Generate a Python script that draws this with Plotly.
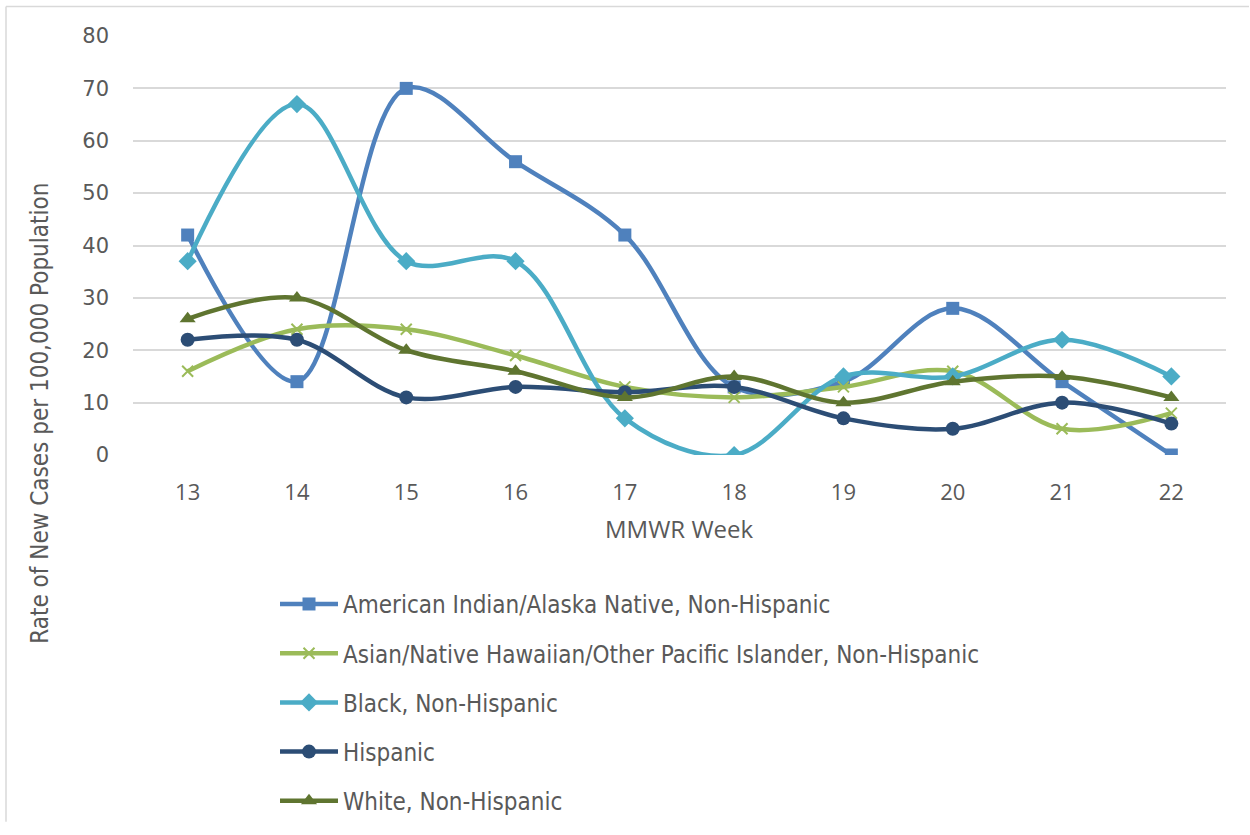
import plotly.graph_objects as go

weeks = [13, 14, 15, 16, 17, 18, 19, 20, 21, 22]
aian = [42, 14, 70, 56, 42, 13, 14, 28, 14, 0]
asian = [16, 24, 24, 19, 13, 11, 13, 16, 5, 8]
black = [37, 67, 37, 37, 7, 0, 15, 15, 22, 15]
hispanic = [22, 22, 11, 13, 12, 13, 7, 5, 10, 6]
white = [26, 30, 20, 16, 11, 15, 10, 14, 15, 11]

series = [
    ("American Indian/Alaska Native, Non-Hispanic", aian, "#4f81bd", "square", 13),
    ("Asian/Native Hawaiian/Other Pacific Islander, Non-Hispanic", asian, "#9bbb59", "x-thin", 11),
    ("Black, Non-Hispanic", black, "#4bacc6", "diamond", 14),
    ("Hispanic", hispanic, "#2c4d75", "circle", 14),
    ("White, Non-Hispanic", white, "#5f7530", "triangle-up", 14),
]

NARROW = "DejaVu Sans Condensed, Roboto Condensed, Liberation Sans Narrow, Roboto"

fig = go.Figure()
for i, (name, vals, color, sym, size) in enumerate(series):
    mk = dict(symbol=sym, size=size, color=color)
    if sym == "x-thin":
        mk["line"] = dict(color=color, width=2)
    fig.add_trace(go.Scatter(
        x=weeks, y=vals, name=name, mode="lines+markers",
        line=dict(color=color, width=4.5, shape="spline", smoothing=1.0),
        marker=mk, legendgroup=f"g{i}",
    ))

W, H = 1250, 835
L, R, T = 133, 24, 36
BOTTOM = 462
B = H - BOTTOM
pw = W - L - R
ph = H - T - B

def px2x(p):
    return (p - L) / pw

def py2y(p):
    return (BOTTOM - p) / ph

fig.update_layout(
    width=W, height=H,
    margin=dict(l=L, r=R, t=T, b=B),
    paper_bgcolor="white", plot_bgcolor="white",
    font=dict(family="Open Sans", color="#595959", size=19),
    xaxis=dict(
        range=[12.5, 22.5], tickmode="array", tickvals=weeks,
        ticktext=[str(w) for w in weeks], showgrid=False, zeroline=False,
        showline=False, ticks="", ticklabelstandoff=22,
        tickfont=dict(family="Open Sans", size=22, color="#595959"),
    ),
    yaxis=dict(
        range=[0, 80], dtick=10, showgrid=True, gridcolor="#d9d9d9", gridwidth=1.5,
        zeroline=False, showline=False, ticks="", ticklabelstandoff=23,
        tickfont=dict(family="DejaVu Sans", size=21, color="#595959"),
    ),
    showlegend=True,
    legend=dict(
        x=px2x(275), y=py2y(591), xanchor="left", yanchor="top",
        orientation="v", tracegroupgap=15, itemwidth=58,
        font=dict(family=NARROW, size=24, color="#595959"),
        bgcolor="rgba(0,0,0,0)",
    ),
    annotations=[
        dict(text="MMWR Week", xref="paper", yref="paper", x=px2x(679), y=py2y(537),
             xanchor="center", yanchor="middle", showarrow=False,
             font=dict(family="Open Sans", size=24, color="#595959")),
        dict(text="Rate of New Cases per 100,000 Population", xref="paper", yref="paper",
             x=px2x(40), y=py2y(420), xanchor="center", yanchor="middle", textangle=-90,
             showarrow=False,
             font=dict(family=NARROW, size=24, color="#595959")),
    ],
    shapes=[
        dict(type="line", xref="paper", yref="paper", x0=px2x(6), x1=px2x(1249),
             y0=py2y(6), y1=py2y(6), line=dict(color="#d9d9d9", width=1.5)),
        dict(type="line", xref="paper", yref="paper", x0=px2x(6), x1=px2x(6),
             y0=py2y(6), y1=py2y(H), line=dict(color="#d9d9d9", width=1.5)),
    ],
)

fig.write_html("out.html", config={"displayModeBar": False},
               post_script="document.body.style.margin='0px';document.body.style.overflow='hidden';")
